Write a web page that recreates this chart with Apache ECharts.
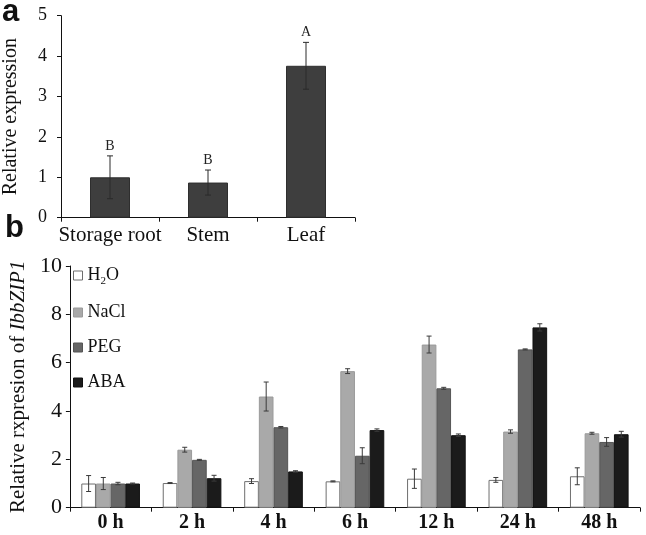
<!DOCTYPE html>
<html>
<head>
<meta charset="utf-8">
<script src="https://cdn.jsdelivr.net/npm/echarts@6/dist/echarts.min.js"></script>
<style>
html,body{margin:0;padding:0;background:#fff;}
#c{width:646px;height:535px;}
</style>
</head>
<body>
<div id="c"></div>
<script>
// Panel a data
const aCats = ['Storage root', 'Stem', 'Leaf'];
const aValues = [1.0, 0.87, 3.76];
const aErrors = [0.53, 0.31, 0.58];
const aLetters = ['B', 'B', 'A'];
const aTicks = [0, 1, 2, 3, 4, 5];

// Panel b data
const bCats = ['0 h', '2 h', '4 h', '6 h', '12 h', '24 h', '48 h'];
const bSeriesNames = ['H2O', 'NaCl', 'PEG', 'ABA'];
const h2oValues  = [1.00, 1.02, 1.10, 1.09, 1.20, 1.15, 1.30];
const h2oErrors  = [0.33, 0.02, 0.10, 0.02, 0.40, 0.10, 0.35];
const naclValues = [1.00, 2.40, 4.60, 5.65, 6.75, 3.15, 3.08];
const naclErrors = [0.25, 0.10, 0.60, 0.10, 0.35, 0.07, 0.04];
const pegValues  = [1.00, 1.98, 3.33, 2.15, 4.94, 6.55, 2.72];
const pegErrors  = [0.05, 0.02, 0.03, 0.33, 0.04, 0.02, 0.18];
const abaValues  = [1.00, 1.22, 1.50, 3.21, 3.00, 7.46, 3.04];
const abaErrors  = [0.02, 0.12, 0.03, 0.05, 0.05, 0.15, 0.12];
const bTicks = [0, 2, 4, 6, 8, 10];

const serif = 'Liberation Serif';
const bValues = [h2oValues, naclValues, pegValues, abaValues];
const bErrors = [h2oErrors, naclErrors, pegErrors, abaErrors];
const bColors = ['#ffffff', '#a9a9a9', '#666666', '#1b1b1b'];
const bBorders = ['#6e6e6e', '#9a9a9a', '#555555', '#111111'];
const CAT_GAP = 0.28;

const chart = echarts.init(document.getElementById('c'));

function errRenderA(params, api) {
  const cat = api.value(0), v = api.value(1), e = api.value(2);
  const top = api.coord([cat, v + e]);
  const bot = api.coord([cat, v - e]);
  const x = top[0];
  const cap = 3;
  const style = { stroke: '#2a2a2a', lineWidth: 1 };
  return {
    type: 'group',
    children: [
      { type: 'line', shape: { x1: x, y1: top[1], x2: x, y2: bot[1] }, style },
      { type: 'line', shape: { x1: x - cap, y1: top[1], x2: x + cap, y2: top[1] }, style },
      { type: 'line', shape: { x1: x - cap, y1: bot[1], x2: x + cap, y2: bot[1] }, style },
      { type: 'text', style: { text: aLetters[params.dataIndex], x: x, y: top[1] - 3,
        align: 'center', verticalAlign: 'bottom', fill: '#222', fontFamily: serif, fontSize: 14 } }
    ]
  };
}

function makeErrRenderB(s) {
  return function (params, api) {
    const cat = api.value(0), v = api.value(1), e = api.value(2);
    const center = api.coord([cat, v]);
    const band = api.size([1, 0])[0];
    const total = band * (1 - CAT_GAP);
    const bw = total / 4;
    const x = center[0] - total / 2 + bw * (s + 0.5);
    const top = api.coord([cat, v + e])[1];
    const bot = api.coord([cat, v - e])[1];
    const cap = 2.5;
    const style = { stroke: '#3a3a3a', lineWidth: 1 };
    return {
      type: 'group',
      children: [
        { type: 'line', shape: { x1: x, y1: top, x2: x, y2: bot }, style },
        { type: 'line', shape: { x1: x - cap, y1: top, x2: x + cap, y2: top }, style },
        { type: 'line', shape: { x1: x - cap, y1: bot, x2: x + cap, y2: bot }, style }
      ]
    };
  };
}

const series = [];
series.push({
  type: 'bar', xAxisIndex: 0, yAxisIndex: 0, data: aValues, barWidth: 40,
  itemStyle: { color: '#3e3e3e', borderColor: '#2e2e2e', borderWidth: 1 },
  silent: true, animation: false
});
series.push({
  type: 'custom', xAxisIndex: 0, yAxisIndex: 0, renderItem: errRenderA, z: 5,
  data: aValues.map((v, i) => [i, v, aErrors[i]]), silent: true, animation: false
});
bSeriesNames.forEach((name, s) => {
  series.push({
    name: name, type: 'bar', xAxisIndex: 1, yAxisIndex: 1, data: bValues[s],
    barCategoryGap: (CAT_GAP * 100) + '%', barGap: '0%',
    itemStyle: { color: bColors[s], borderColor: bBorders[s], borderWidth: 1 },
    silent: true, animation: false
  });
});
bSeriesNames.forEach((name, s) => {
  series.push({
    type: 'custom', xAxisIndex: 1, yAxisIndex: 1, renderItem: makeErrRenderB(s), z: 5,
    data: bValues[s].map((v, i) => [i, v, bErrors[s][i]]), silent: true, animation: false
  });
});

const axisLine = { show: true, lineStyle: { color: '#111', width: 1 } };
const axisTick = { show: true, inside: false, length: 4, lineStyle: { color: '#111', width: 1 } };

chart.setOption({
  backgroundColor: '#ffffff',
  animation: false,
  textStyle: { fontFamily: serif },
  graphic: [
    { type: 'text', left: 2, top: -3, style: { text: 'a', fontFamily: 'Liberation Sans', fontWeight: 'bold', fontSize: 31, fill: '#111' } },
    { type: 'text', left: 5, top: 213, style: { text: 'b', fontFamily: 'Liberation Sans', fontWeight: 'bold', fontSize: 31, fill: '#111' } }
  ],
  legend: {
    orient: 'vertical', left: 73, top: 264, padding: 0,
    itemWidth: 9, itemHeight: 9, itemGap: 16, itemTextGap: 9, icon: 'rect',
    data: bSeriesNames.map((n, s) => ({ name: n, itemStyle: { color: bColors[s], borderColor: bBorders[s], borderWidth: 1 } })),
    formatter: function (n) { return n === 'H2O' ? '{t|H}{sub|2}{t|O}' : '{t|' + n + '}'; },
    textStyle: { fontFamily: serif, fontSize: 18, color: '#111', lineHeight: 19,
      rich: {
        t: { fontFamily: serif, fontSize: 18, color: '#111', lineHeight: 19 },
        sub: { fontFamily: serif, fontSize: 11, color: '#111', lineHeight: 19, padding: [12, 0, 0, 0] }
      } },
    selectedMode: false
  },
  grid: [
    { left: 58, top: 15.7, width: 297, height: 202 },
    { left: 59, top: 266, width: 581, height: 241.7 }
  ],
  xAxis: [
    { type: 'category', gridIndex: 0, data: aCats, axisLine, axisTick,
      axisLabel: { interval: 0, fontFamily: serif, fontSize: 21, color: '#111', margin: 7 } },
    { type: 'category', gridIndex: 1, data: bCats, axisLine, axisTick,
      axisLabel: { interval: 0, fontFamily: serif, fontSize: 20, fontWeight: 'bold', color: '#111', margin: 5 } }
  ],
  yAxis: [
    { type: 'value', gridIndex: 0, min: aTicks[0], max: aTicks[aTicks.length - 1], interval: 1,
      axisLine, axisTick, splitLine: { show: false },
      axisLabel: { fontFamily: serif, fontSize: 18, color: '#111', margin: 14 },
      name: 'Relative expression', nameLocation: 'middle', nameGap: 40,
      nameTextStyle: { fontFamily: serif, fontSize: 20, color: '#111' } },
    { type: 'value', gridIndex: 1, min: bTicks[0], max: bTicks[bTicks.length - 1], interval: 2,
      axisLine, axisTick, splitLine: { show: false },
      axisLabel: { fontFamily: serif, fontSize: 22, color: '#111', margin: 8 },
      name: '{n|Relative rxpresion of }{i|IbbZIP1}', nameLocation: 'middle', nameGap: 40,
      nameTextStyle: { fontFamily: serif, fontSize: 21, color: '#111',
        rich: {
          n: { fontFamily: serif, fontSize: 21, color: '#111' },
          i: { fontFamily: serif, fontSize: 21, fontStyle: 'italic', color: '#111' }
        } } }
  ],
  series
});
</script>
</body>
</html>
